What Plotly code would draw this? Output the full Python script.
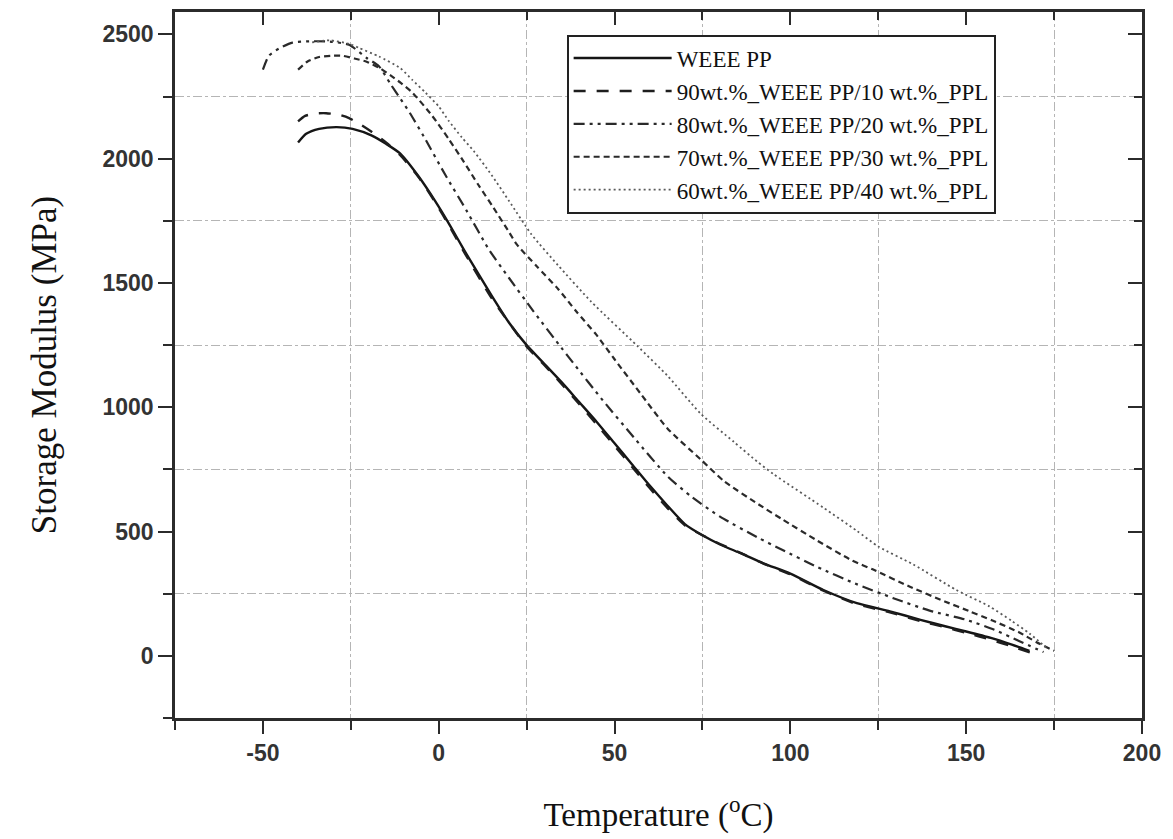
import plotly.graph_objects as go

# ---------------- data ----------------
series_names = [
    "WEEE PP",
    "90wt.%_WEEE PP/10 wt.%_PPL",
    "80wt.%_WEEE PP/20 wt.%_PPL",
    "70wt.%_WEEE PP/30 wt.%_PPL",
    "60wt.%_WEEE PP/40 wt.%_PPL",
]

x_pp = [-40, -37.7, -34, -29, -24.5, -19, -15, -11, -5.7, -1,
        3.3, 7.6, 15, 20, 25, 30, 35, 40, 45, 50,
        55, 60, 65, 70, 75, 80, 86, 92.5, 100, 109.4,
        118.9, 128.3, 137, 144, 150, 157, 163, 168]
y_pp = [2065, 2100, 2120, 2127, 2120, 2093, 2060, 2021, 1928, 1829,
        1729, 1623, 1450, 1340, 1250, 1175, 1100, 1020, 940, 855,
        770, 685, 605, 530, 485, 448, 412, 371, 331, 265,
        212, 179, 145, 119, 98, 72, 45, 20]

x_90 = [-40, -38, -35, -32, -28, -25.5, -22, -19, -15, -11,
        -5.7, -1, 3.3, 7.6, 15, 25, 30, 35, 40, 45,
        50, 55, 60, 65, 70, 75, 80, 86, 92.5, 100,
        109.4, 118.9, 128.3, 137, 144, 150, 157, 163, 170]
y_90 = [2150, 2172, 2182, 2183, 2175, 2163, 2135, 2107, 2065, 2015,
        1925, 1825, 1722, 1615, 1440, 1245, 1170, 1093, 1012, 930,
        845, 760, 675, 595, 525, 485, 450, 413, 370, 328,
        262, 208, 175, 140, 115, 92, 65, 38, 5]

x_80 = [-50, -48.3, -45.3, -41.6, -36.8, -31, -25.5, -20.5, -17, -13.7,
        -10.8, -8.3, -4.2, 1.9, 8, 14.2, 20, 27, 34.9, 38.2,
        46.7, 55.7, 65.1, 71.7, 80, 90.6, 97.2, 107.6, 118.4, 129.3,
        139.6, 150, 158, 165, 172]
y_80 = [2358, 2414, 2444, 2467, 2472, 2471, 2458, 2405, 2372, 2300,
        2239, 2186, 2088, 1934, 1789, 1636, 1520, 1385, 1239, 1179,
        1027, 875, 722, 642, 560, 477, 430, 358, 291, 232,
        182, 145, 105, 60, 15]

x_70 = [-40, -37.3, -34, -30.6, -27.4, -24, -20.5, -16.5, -13.7, -10.8,
        -7.5, -1.9, 2.8, 7.1, 11.3, 15.6, 19.8, 22.2, 28, 34,
        39.2, 44.8, 50, 57.5, 65.1, 74.5, 81.2, 91, 97.6, 107.6,
        117.5, 124, 134, 143.9, 151, 157.3, 165, 170, 175]
y_70 = [2358, 2391, 2409, 2414, 2414, 2403, 2390, 2362, 2335, 2305,
        2266, 2173, 2080, 1988, 1894, 1802, 1709, 1655, 1565, 1475,
        1384, 1292, 1193, 1053, 914, 790, 702, 609, 550, 464,
        384, 344, 278, 219, 179, 143, 95, 55, 20]

x_60 = [-36, -31, -25.5, -22.6, -17, -11, -7.6, -3.8, 0, 2.8,
        6.6, 10, 15, 20, 26.4, 34, 43.4, 56.6, 65.1, 74.5,
        83.9, 90.6, 95.3, 109.4, 118.9, 125, 134.9, 147.2, 156.6, 163,
        168, 173]
y_60 = [2468, 2476, 2462, 2445, 2411, 2365, 2318, 2266, 2210, 2153,
        2085, 2030, 1935, 1830, 1695, 1570, 1424, 1245, 1126, 974,
        861, 781, 730, 596, 503, 440, 368, 265, 199, 140,
        90, 30]

x_range = [-75, 200]
y_range = [-250, 2590]
x_tick_vals = [-50, 0, 50, 100, 150, 200]
x_tick_text = ["-50", "0", "50", "100", "150", "200"]
y_tick_vals = [0, 500, 1000, 1500, 2000, 2500]
y_tick_text = ["0", "500", "1000", "1500", "2000", "2500"]

# ---------------- styles ----------------
styles = [
    dict(color="#151515", width=2.4, dash="solid"),
    dict(color="#1e1e1e", width=2.4, dash="12px,11px"),
    dict(color="#2a2a2a", width=2.2, dash="11px,5px,3px,5px,3px,5px"),
    dict(color="#2a2a2a", width=2.2, dash="6px,4px"),
    dict(color="#5a5a5a", width=1.8, dash="2px,3px"),
]

xs = [x_pp, x_90, x_80, x_70, x_60]
ys = [y_pp, y_90, y_80, y_70, y_60]

fig = go.Figure()
for name, x, y, st in zip(series_names, xs, ys, styles):
    fig.add_trace(go.Scatter(
        x=x, y=y, mode="lines", name=name,
        line=dict(color=st["color"], width=st["width"], dash=st["dash"],
                  shape="spline", smoothing=0.6),
    ))

# helper trace to create mirrored (top/right) axes with inward ticks
fig.add_trace(go.Scatter(x=[None], y=[None], xaxis="x2", yaxis="y2",
                         showlegend=False, hoverinfo="skip"))

axis_color = "#2b2b2b"
tick_font = dict(family="Liberation Sans, Arial, sans-serif", size=23,
                 color="#333333", weight="bold")
title_font = dict(family="Liberation Serif, Times New Roman, serif", size=33, color="#111")
grid_minor = dict(showgrid=True, gridcolor="#b5b5b5", gridwidth=1, griddash="dashdot")

fig.update_layout(
    width=1173, height=839,
    margin=dict(l=175, r=27, t=12, b=112),
    paper_bgcolor="white", plot_bgcolor="white",
    showlegend=True,
    legend=dict(
        x=0.405, y=0.968, xanchor="left", yanchor="top",
        bgcolor="white", bordercolor="#222", borderwidth=2,
        font=dict(family="Liberation Serif, Times New Roman, serif", size=23, color="#111"),
        itemwidth=98, tracegroupgap=0,
    ),
    xaxis=dict(
        range=x_range, tickvals=x_tick_vals, ticktext=x_tick_text,
        showline=True, linecolor=axis_color, linewidth=2.5,
        ticks="outside", ticklen=13, tickwidth=2, tickcolor=axis_color,
        showgrid=False, zeroline=False,
        tickfont=tick_font,
        minor=dict(tick0=-25, dtick=50, ticks="outside", ticklen=9,
                   tickwidth=2, tickcolor=axis_color, **grid_minor),
        title=dict(text="Temperature (<sup>o</sup>C)", font=title_font, standoff=38),
    ),
    yaxis=dict(
        range=y_range, tickvals=y_tick_vals, ticktext=y_tick_text,
        showline=True, linecolor=axis_color, linewidth=2.5,
        ticks="outside", ticklen=14, tickwidth=2, tickcolor=axis_color,
        showgrid=False, zeroline=False,
        tickfont=tick_font,
        minor=dict(tick0=250, dtick=500, ticks="outside", ticklen=9,
                   tickwidth=2, tickcolor=axis_color, **grid_minor),
        title=dict(text="Storage Modulus (MPa)", font=dict(title_font, size=35), standoff=36),
    ),
    xaxis2=dict(
        overlaying="x", side="top", anchor="y2", range=x_range,
        tickvals=x_tick_vals, showticklabels=False,
        showline=True, linecolor=axis_color, linewidth=2.5,
        ticks="inside", ticklen=13, tickwidth=2, tickcolor=axis_color,
        showgrid=False, zeroline=False,
        minor=dict(tick0=-25, dtick=50, ticks="inside", ticklen=8,
                   tickwidth=2, tickcolor=axis_color, showgrid=False),
    ),
    yaxis2=dict(
        overlaying="y", side="right", anchor="x2", range=y_range,
        tickvals=y_tick_vals, showticklabels=False,
        showline=True, linecolor=axis_color, linewidth=2.5,
        ticks="inside", ticklen=14, tickwidth=2, tickcolor=axis_color,
        showgrid=False, zeroline=False,
        minor=dict(tick0=250, dtick=500, ticks="inside", ticklen=8,
                   tickwidth=2, tickcolor=axis_color, showgrid=False),
    ),
)

fig.write_html("out.html")
